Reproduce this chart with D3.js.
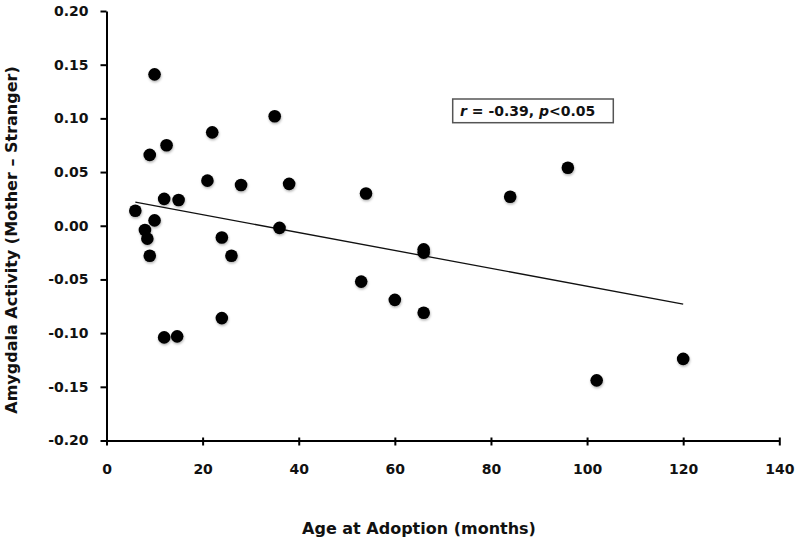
<!DOCTYPE html>
<html>
<head>
<meta charset="utf-8">
<script src="https://cdn.jsdelivr.net/npm/d3@7"></script>
<style>
  html, body { margin: 0; padding: 0; background: #fff; }
  svg { display: block; }
  text { font-family: "DejaVu Sans", sans-serif; font-weight: bold; fill: #111; }
</style>
</head>
<body>
<svg id="chart" width="800" height="542"></svg>
<script>
// Data
const ageMonths = [6, 10, 9, 12.5, 22, 35, 21, 28, 38, 54, 12, 15, 10, 8, 8.5, 9, 24, 26, 36, 53, 60, 24, 12, 14.7, 66, 120, 102, 96, 84, 66, 66];
const amygdala  = [0.014, 0.141, 0.066, 0.075, 0.087, 0.102, 0.042, 0.038, 0.039, 0.030, 0.025, 0.024, 0.005, -0.004, -0.012, -0.028, -0.011, -0.028, -0.002, -0.052, -0.069, -0.086, -0.104, -0.103, -0.081, -0.124, -0.144, 0.054, 0.027, -0.022, -0.025];
const fitX = [6, 120];
const fitY = [0.022, -0.073];
const xTicks = [0, 20, 40, 60, 80, 100, 120, 140];
const yTicks = [-0.20, -0.15, -0.10, -0.05, 0.00, 0.05, 0.10, 0.15, 0.20];
const yTickLabels = ["-0.20", "-0.15", "-0.10", "-0.05", "0.00", "0.05", "0.10", "0.15", "0.20"];
const xTitle = "Age at Adoption (months)";
const yTitle = "Amygdala Activity (Mother \u2013 Stranger)";

const svg = d3.select("#chart");
const x = d3.scaleLinear().domain([0, 140]).range([106.5, 779.3]);
const y = d3.scaleLinear().domain([-0.20, 0.20]).range([440.5, 11]);

const defs = svg.append("defs");
const f = defs.append("filter").attr("id", "sh").attr("x", "-50%").attr("y", "-50%").attr("width", "200%").attr("height", "200%");
f.append("feDropShadow").attr("dx", 0.5).attr("dy", 1.5).attr("stdDeviation", 1.2).attr("flood-color", "#000").attr("flood-opacity", 0.3);

// Y axis
const yAxis = d3.axisLeft(y).tickValues(yTicks).tickSize(6).tickSizeOuter(0).tickPadding(12)
  .tickFormat((d, i) => yTickLabels[i]);
const gy = svg.append("g").attr("transform", `translate(${x(0)},0)`).call(yAxis);
gy.select(".domain").attr("stroke", "#000").attr("stroke-width", 2);
gy.selectAll(".tick line").attr("stroke", "#000").attr("stroke-width", 2);
gy.selectAll(".tick text").attr("font-size", 14).attr("font-family", "DejaVu Sans").attr("font-weight", "bold").attr("fill", "#111");

// X axis
const xAxis = d3.axisBottom(x).tickValues(xTicks).tickSize(5).tickSizeOuter(0).tickFormat(d3.format("d"));
const gx = svg.append("g").attr("transform", `translate(0,${y(-0.20)})`).call(xAxis);
gx.select(".domain").attr("stroke", "#000").attr("stroke-width", 2);
gx.selectAll(".tick line").attr("stroke", "#000").attr("stroke-width", 2).attr("y1", -3).attr("y2", 5);
gx.selectAll(".tick text").attr("font-size", 14).attr("font-family", "DejaVu Sans").attr("font-weight", "bold")
  .attr("fill", "#111").attr("dy", null).attr("y", 33);

// Fit line
svg.append("line")
  .attr("x1", x(fitX[0])).attr("y1", y(fitY[0]))
  .attr("x2", x(fitX[1])).attr("y2", y(fitY[1]))
  .attr("stroke", "#111").attr("stroke-width", 1.3);

// Points
svg.append("g").selectAll("circle").data(ageMonths.map((a, i) => [a, amygdala[i]])).join("circle")
  .attr("cx", d => x(d[0])).attr("cy", d => y(d[1])).attr("r", 6.3)
  .attr("fill", "#000").attr("filter", "url(#sh)");

// Stats box
svg.append("rect").attr("x", 452.7).attr("y", 99).attr("width", 160.6).attr("height", 23.7)
  .attr("fill", "#fff").attr("stroke", "#555").attr("stroke-width", 1.5);
const st = svg.append("text").attr("x", 460).attr("y", 115.5).attr("font-size", 14);
st.append("tspan").attr("font-style", "italic").text("r");
st.append("tspan").text(" = -0.39, ");
st.append("tspan").attr("font-style", "italic").text("p");
st.append("tspan").text("<0.05");

// Axis titles
svg.append("text").attr("x", 419).attr("y", 534).attr("text-anchor", "middle").attr("font-size", 16).text(xTitle);
svg.append("text").attr("transform", "translate(17,240) rotate(-90)").attr("text-anchor", "middle").attr("font-size", 16).text(yTitle);
</script>
</body>
</html>
